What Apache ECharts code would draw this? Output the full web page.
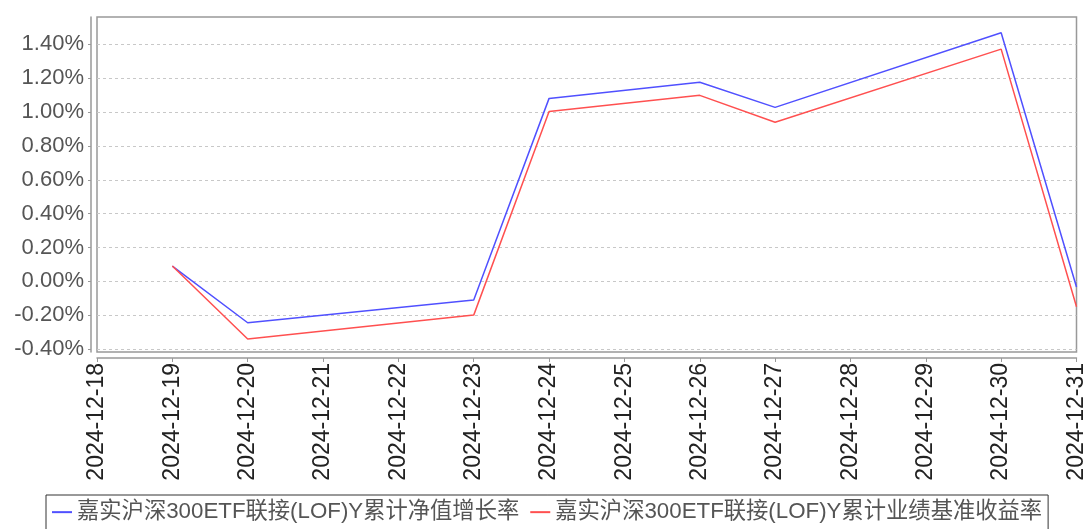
<!DOCTYPE html>
<html>
<head>
<meta charset="utf-8">
<script src="https://cdn.jsdelivr.net/npm/echarts@6/dist/echarts.min.js"></script>
<style>
html,body{margin:0;padding:0;background:#fff;}
#chart{width:1088px;height:529px;}
</style>
</head>
<body>
<div id="chart"></div>
<script>
const categories = ['2024-12-18','2024-12-19','2024-12-20','2024-12-21','2024-12-22','2024-12-23','2024-12-24','2024-12-25','2024-12-26','2024-12-27','2024-12-28','2024-12-29','2024-12-30','2024-12-31'];
const navGrowth = [null, 0.090, -0.245, null, null, -0.111, 1.081, null, 1.176, 1.028, null, null, 1.469, -0.034];
const benchGrowth = [null, 0.090, -0.341, null, null, -0.200, 1.004, null, 1.099, 0.940, null, null, 1.372, -0.151];
const yTicks = [-0.4, -0.2, 0, 0.2, 0.4, 0.6, 0.8, 1.0, 1.2, 1.4];
const seriesNames = ['嘉实沪深300ETF联接(LOF)Y累计净值增长率', '嘉实沪深300ETF联接(LOF)Y累计业绩基准收益率'];

const chart = echarts.init(document.getElementById('chart'));
chart.setOption({
  animation: false,
  grid: {left: 97, right: 10, top: 17, bottom: 177, show: true, borderColor: '#999', borderWidth: 1.5, containLabel: false},
  legend: {
    left: 46, top: 495,
    padding: [6, 6, 10, 6],
    borderColor: '#333', borderWidth: 1,
    itemGap: 11, itemWidth: 20, itemHeight: 2,
    icon: 'rect',
    textStyle: {fontFamily: 'Liberation Sans, Noto Sans CJK SC', fontSize: 22.3, color: '#555'},
    data: seriesNames
  },
  xAxis: {
    type: 'category', data: categories, boundaryGap: false, offset: 6,
    axisLine: {onZero: false, lineStyle: {color: '#999', width: 1.5}},
    axisTick: {show: true, length: 4, lineStyle: {color: '#999'}},
    axisLabel: {rotate: 90, interval: 0, margin: 5, fontFamily: 'Liberation Sans', fontSize: 23, color: '#222'},
    splitLine: {show: false}
  },
  yAxis: {
    type: 'value', min: -0.418, max: 1.562, offset: 6,
    axisLine: {show: true, lineStyle: {color: '#999', width: 1.5}},
    axisTick: {show: true, length: 3, lineStyle: {color: '#999'}, customValues: yTicks},
    axisLabel: {margin: 7, fontFamily: 'Liberation Sans', fontSize: 22, color: '#555', customValues: yTicks,
      formatter: v => v.toFixed(2) + '%'},
    splitLine: {show: true, lineStyle: {color: '#c8c8c8', type: [3, 3], width: 1}}
  },
  series: [
    {name: seriesNames[0], type: 'line', data: navGrowth, connectNulls: true, showSymbol: false, symbol: 'none',
      lineStyle: {color: '#5050ff', width: 1.5}, itemStyle: {color: '#5050ff'}},
    {name: seriesNames[1], type: 'line', data: benchGrowth, connectNulls: true, showSymbol: false, symbol: 'none',
      lineStyle: {color: '#ff5050', width: 1.5}, itemStyle: {color: '#ff5050'}}
  ]
});
</script>
</body>
</html>
